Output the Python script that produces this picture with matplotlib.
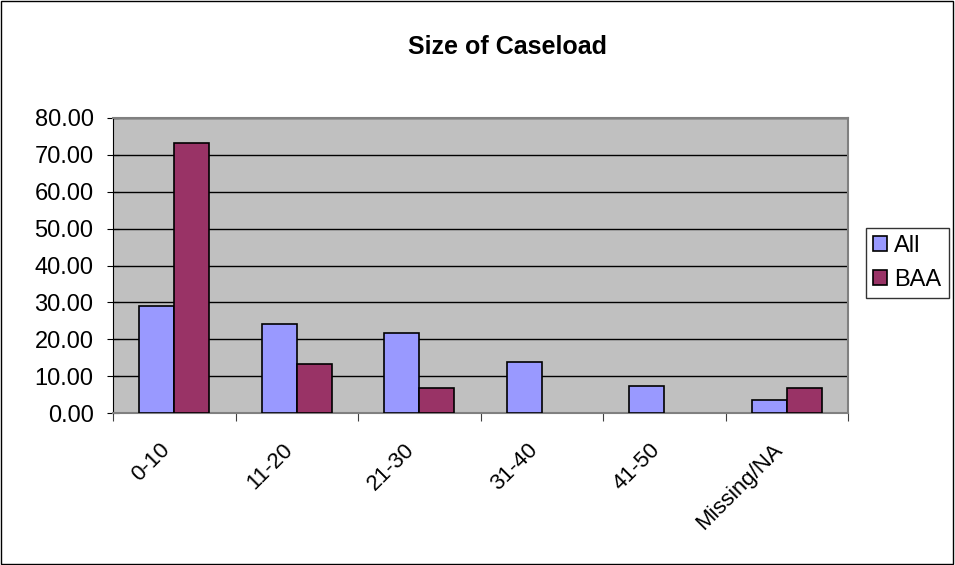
import matplotlib
matplotlib.use("Agg")
import matplotlib.pyplot as plt
import matplotlib.transforms as mtrans
from matplotlib.patches import Rectangle
import numpy as np

categories = ["0-10", "11-20", "21-30", "31-40", "41-50", "Missing/NA"]
all_vals = [29.0, 24.2, 21.8, 13.8, 7.3, 3.4]
baa_vals = [73.3, 13.3, 6.7, 0.0, 0.0, 6.7]
yticks = [0, 10, 20, 30, 40, 50, 60, 70, 80]

plt.rcParams['font.family'] = ['Liberation Sans', 'DejaVu Sans']

fig = plt.figure(figsize=(9.55, 5.65), dpi=100)
fig.patches.append(Rectangle((0.001, 0.002), 0.997, 0.996, transform=fig.transFigure,
                             fill=False, edgecolor='black', linewidth=1.0))
ax = fig.add_axes([113/955, (565-413)/565, 735/955, 295/565])
ax.set_facecolor('#C0C0C0')

x = np.arange(len(categories))
w = 0.286
a = np.array(all_vals)
b = np.array(baa_vals)
ma = a > 0
mb = b > 0
ax.bar(x[ma] - w/2, a[ma], width=w, color='#9999FF', edgecolor='black', linewidth=1.2, label='All', zorder=3)
ax.bar(x[mb] + w/2, b[mb], width=w, color='#993366', edgecolor='black', linewidth=1.2, label='BAA', zorder=3)

ax.set_xlim(-0.5, len(categories) - 0.5)
ax.set_ylim(0, 80)
ax.set_yticks(yticks)
ax.set_yticklabels([f"{v:.2f}" for v in yticks], fontsize=17)
ax.yaxis.grid(True, color='black', linewidth=1.0, zorder=1)
ax.set_axisbelow(True)

ax.set_xticks(np.arange(len(categories) + 1) - 0.5)
ax.set_xticklabels([])
ax.tick_params(axis='x', which='major', length=6, color='#404040', direction='out')
ax.tick_params(axis='y', length=8, color='black', direction='inout', pad=10)

base = mtrans.blended_transform_factory(ax.transData, ax.transAxes)
off = mtrans.ScaledTranslation(-15/100, -26/100, fig.dpi_scale_trans)
for xi, lab in zip(x, categories):
    ax.text(xi, 0, lab, transform=base + off, rotation=45, ha='right', va='top',
            rotation_mode='anchor', fontsize=16, clip_on=False)

for s in ['top', 'right']:
    ax.spines[s].set_color('gray')
    ax.spines[s].set_linewidth(1.5)
ax.spines['left'].set_color('black')
ax.spines['bottom'].set_color('gray')
ax.spines['bottom'].set_linewidth(1.5)

fig.text(508/955, 1 - 47/565, "Size of Caseload", ha='center', va='center',
         fontsize=18, fontweight='bold')

leg = fig.legend(loc='upper left', bbox_to_anchor=(866/955, 1 - 228/565), fontsize=17,
                 frameon=True, fancybox=False, edgecolor='black', handlelength=0.6,
                 handleheight=0.6, handletextpad=0.3, borderpad=0.3, labelspacing=0.5,
                 borderaxespad=0)
leg.get_frame().set_linewidth(1.0)

fig.savefig("out.png", dpi=100)
